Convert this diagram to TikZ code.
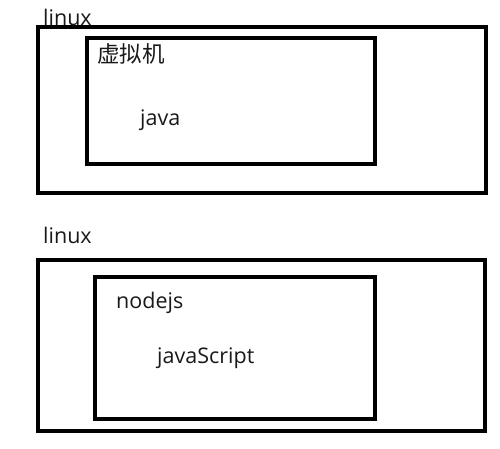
\documentclass[tikz,border=0pt]{standalone}
\usepackage{fontspec}
\setmainfont{Open Sans}
\newfontfamily\cjk{Noto Sans CJK SC}
\usepackage{tikz}
\usetikzlibrary{positioning}

\begin{document}
\begin{tikzpicture}[x=1pt,y=-1pt]
        \tikzset{
          boite/.style={
            draw=black,rectangle,line width=3.5pt,fill=none,
            inner sep=0pt,
          },
          etiquette/.style={
            inner sep=0pt,font=\fontsize{21.5}{24}\selectfont,text=black!90,
          },
          }
        \useasboundingbox (0,0) rectangle (500,448);
        % premier cas : java
        \node[boite, minimum width=448pt, minimum height=166pt] (linuxA) at (262,110) {};
        \node[boite, minimum width=288pt, minimum height=126pt] (vm) at (231,101) {};
        \node[etiquette, anchor=base west] (txtlinuxA) at (43,25) {linux};
        \node[etiquette, anchor=west, font=\cjk\fontsize{22.5}{24}\selectfont] (txtvm) at (97,54) {虚拟机};
        \node[etiquette, anchor=base west] (java) at (140,125) {java};
        % second cas : javaScript
        \node[boite, minimum width=447pt, minimum height=171pt] (linuxB) at (261.5,345.5) {};
        \node[boite, minimum width=280pt, minimum height=142pt] (nodejs) at (235,348) {};
        \node[etiquette, anchor=base west] (txtlinuxB) at (43,243) {linux};
        \node[etiquette, anchor=base west] (txtnodejs) at (116,308) {nodejs};
        \node[etiquette, anchor=base west] (js) at (157,363) {javaScript};
      \end{tikzpicture}
\end{document}
